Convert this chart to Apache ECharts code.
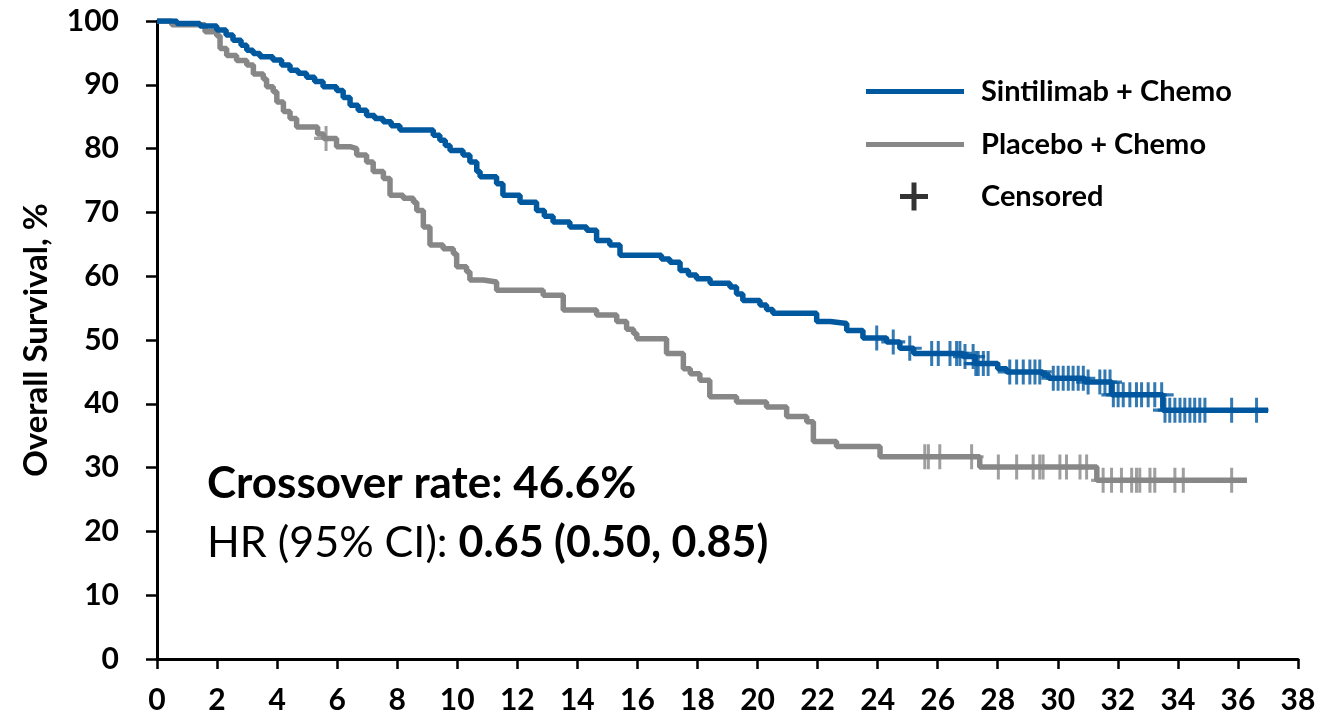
<!DOCTYPE html>
<html>
<head>
<meta charset="utf-8">
<title>Overall Survival</title>
<script src="https://cdn.jsdelivr.net/npm/echarts@6/dist/echarts.min.js"></script>
<style>
  html, body { margin: 0; padding: 0; background: #ffffff; }
  #chart { width: 1338px; height: 721px; }
</style>
</head>
<body>
<div id="chart"></div>
<script>
// Kaplan-Meier step points (months, % surviving) for each arm
const sintiTimes = [0, 0.66, 1.43, 1.99, 2.3, 2.53, 2.8, 2.99, 3.2, 3.43, 3.86, 4.15, 4.43, 4.7, 4.98, 5.25, 5.53, 5.98, 6.2, 6.43, 6.7, 6.98, 7.25, 7.53, 7.8, 8.09, 9.2, 9.42, 9.6, 9.76, 10.19, 10.42, 10.65, 10.76, 11.31, 11.52, 12.09, 12.64, 12.9, 13.19, 13.75, 14.31, 14.64, 15.08, 15.42, 16.8, 17.08, 17.42, 17.7, 17.97, 18.42, 19.08, 19.3, 19.51, 20.08, 20.3, 20.51, 21.97, 22.42, 22.97, 23.51, 24.3, 24.74, 25.2, 26.85, 27.25, 28.0, 28.3, 29.5, 29.7, 30.9, 31.8, 33.5, 37.0];
const sintiSurv  = [100, 99.6, 99.2, 98.6, 97.8, 97.0, 96.2, 95.4, 94.9, 94.4, 93.9, 93.1, 92.3, 91.8, 91.2, 90.5, 89.7, 89.1, 88.0, 86.8, 86.0, 85.2, 84.7, 84.2, 83.6, 82.9, 82.1, 81.3, 80.5, 79.7, 79.0, 77.9, 76.4, 75.6, 74.5, 72.7, 71.6, 70.3, 69.4, 68.5, 67.7, 67.2, 65.6, 64.9, 63.3, 62.7, 62.2, 60.9, 60.2, 59.6, 58.9, 58.3, 57.2, 56.2, 55.5, 54.8, 54.2, 52.9, 52.6, 51.5, 50.3, 49.7, 48.7, 47.9, 47.4, 46.3, 45.5, 45.0, 44.5, 44.0, 43.4, 41.4, 39.0, 39.0];
const sintiCensored = [23.97, 24.52, 25.07, 25.80, 26.02, 26.41, 26.63, 26.74, 26.91, 27.18, 27.27, 27.35, 27.52, 27.68, 28.40, 28.63, 28.85, 29.07, 29.24, 29.40, 29.85, 30.01, 30.18, 30.35, 30.51, 30.68, 30.85, 31.01, 31.40, 31.57, 31.74, 31.85, 32.01, 32.18, 32.40, 32.62, 32.79, 33.01, 33.23, 33.46, 33.57, 33.73, 33.90, 34.07, 34.23, 34.40, 34.56, 34.73, 34.90, 35.79, 36.62];

const placeboTimes = [0, 0.49, 1.6, 1.99, 2.1, 2.32, 2.65, 2.99, 3.21, 3.54, 3.65, 3.87, 3.99, 4.21, 4.43, 4.65, 5.35, 5.55, 5.98, 6.43, 6.65, 6.98, 7.2, 7.54, 7.76, 8.2, 8.54, 8.65, 8.87, 9.09, 9.53, 9.87, 9.98, 10.31, 10.42, 10.87, 11.31, 12.86, 13.53, 14.64, 15.31, 15.64, 15.87, 15.98, 16.97, 17.53, 17.76, 18.08, 18.41, 19.3, 20.3, 20.97, 21.64, 21.86, 22.63, 24.08, 27.4, 31.3, 36.3];
const placeboSurv  = [100, 99.4, 98.3, 97.7, 95.7, 94.6, 93.8, 93.1, 91.7, 90.9, 89.7, 88.9, 87.3, 85.8, 84.7, 83.4, 82.3, 81.6, 80.3, 80.0, 79.0, 77.9, 76.4, 75.3, 72.7, 72.2, 71.6, 70.3, 67.7, 64.9, 64.3, 63.5, 61.5, 60.7, 59.4, 59.1, 57.8, 57.0, 54.7, 53.9, 52.9, 51.7, 51.0, 50.2, 47.9, 45.5, 44.7, 43.7, 41.1, 40.3, 39.5, 38.0, 37.2, 34.1, 33.3, 31.7, 30.1, 28.0, 28.0];
const placeboCensored = [5.63, 25.57, 25.69, 26.07, 27.13, 28.02, 28.63, 29.18, 29.40, 29.51, 30.07, 30.29, 30.74, 30.96, 31.51, 31.79, 32.12, 32.46, 32.62, 32.73, 33.07, 33.23, 33.90, 34.18, 35.79];

const xTicks = { min: 0, max: 38, interval: 2 };
const yTicks = { min: 0, max: 100, interval: 10 };

const BLUE = '#00589f';
const GREY = '#878787';
const FONT = 'Lato, "Noto Sans", sans-serif';

function pairs(ts, vs) { return ts.map((t, i) => [t, vs[i]]); }
function survivalAt(ts, vs, t) {
  let v = vs[0];
  for (let i = 0; i < ts.length; i++) { if (ts[i] <= t) v = vs[i]; else break; }
  return v;
}
function censorPoints(cs, ts, vs) { return cs.map(t => [t, survivalAt(ts, vs, t)]); }

// plus-shaped marker for censored observations
const PLUS = 'path://M10.5,0H13.5V10.5H24V13.5H13.5V24H10.5V13.5H0V10.5H10.5Z';
// legend icons: the trailing zero-area segment widens the icon box so the label sits further right
const PLUS_LEGEND = 'path://M11.5,0H16.5V11.5H28V16.5H16.5V28H11.5V16.5H0V11.5H11.5Z M76,0L76,28';
const LINE_LEGEND = 'path://M0,0H98V5H0Z M110,0L110,5';

const chart = echarts.init(document.getElementById('chart'), null, { renderer: 'canvas' });

const legendText = { fontFamily: FONT, fontWeight: 'bold', fontSize: 29, color: '#000' };

chart.setOption({
  backgroundColor: '#ffffff',
  animation: false,
  grid: { left: 157, right: 40, top: 21, bottom: 62, containLabel: false },
  xAxis: {
    type: 'value', min: xTicks.min, max: xTicks.max, interval: xTicks.interval,
    axisLine: { show: true, onZero: false, lineStyle: { color: '#000', width: 3 } },
    axisTick: { show: true, length: 10, lineStyle: { color: '#000', width: 2.5 } },
    axisLabel: { margin: 26, fontFamily: FONT, fontWeight: 'bold', fontSize: 30, color: '#000' },
    splitLine: { show: false }
  },
  yAxis: {
    type: 'value', min: yTicks.min, max: yTicks.max, interval: yTicks.interval,
    name: 'Overall Survival, %', nameLocation: 'middle', nameGap: 104,
    nameTextStyle: { fontFamily: FONT, fontWeight: 'bold', fontSize: 33, color: '#000' },
    axisLine: { show: true, lineStyle: { color: '#000', width: 3 } },
    axisTick: { show: true, length: 11, lineStyle: { color: '#000', width: 2.5 } },
    axisLabel: { margin: 38, fontFamily: FONT, fontWeight: 'bold', fontSize: 30, color: '#000' },
    splitLine: { show: false }
  },
  legend: [
    { data: [{ name: 'Sintilimab + Chemo', icon: LINE_LEGEND }], left: 861, top: 72, itemWidth: 110, itemHeight: 5,
      itemStyle: { borderWidth: 0 }, textStyle: legendText, selectedMode: false },
    { data: [{ name: 'Placebo + Chemo', icon: LINE_LEGEND }], left: 861, top: 125, itemWidth: 110, itemHeight: 5,
      itemStyle: { borderWidth: 0 }, textStyle: legendText, selectedMode: false },
    { data: [{ name: 'Censored', icon: PLUS_LEGEND }], left: 895, top: 177, itemWidth: 76, itemHeight: 28,
      itemStyle: { borderWidth: 0 }, textStyle: legendText, selectedMode: false }
  ],
  graphic: [
    { type: 'text', left: 207, top: 462,
      style: { text: '{b|Crossover rate: 46.6%}', rich: { b: { fontFamily: FONT, fontWeight: 'bold', fontSize: 44, fill: '#000' } } } },
    { type: 'text', left: 207, top: 522,
      style: { text: '{n|HR (95% CI): }{b|0.65 (0.50, 0.85)}',
        rich: { n: { fontFamily: FONT, fontSize: 43, fill: '#000' },
                b: { fontFamily: FONT, fontWeight: 'bold', fontSize: 43, fill: '#000' } } } }
  ],
  series: [
    { name: 'Placebo + Chemo', type: 'line', step: 'end', showSymbol: false, symbol: 'none',
      color: GREY, lineStyle: { color: GREY, width: 5.5 }, data: pairs(placeboTimes, placeboSurv), z: 2 },
    { name: 'Sintilimab + Chemo', type: 'line', step: 'end', showSymbol: false, symbol: 'none',
      color: BLUE, lineStyle: { color: BLUE, width: 5.5 }, data: pairs(sintiTimes, sintiSurv), z: 3 },
    { name: 'placebo-censored', type: 'scatter', symbol: PLUS, symbolSize: [24, 25],
      itemStyle: { color: GREY }, data: censorPoints(placeboCensored, placeboTimes, placeboSurv), z: 4 },
    { name: 'sinti-censored', type: 'scatter', symbol: PLUS, symbolSize: [24, 25],
      itemStyle: { color: BLUE }, data: censorPoints(sintiCensored, sintiTimes, sintiSurv), z: 5 },
    { name: 'Censored', type: 'scatter', color: '#000', itemStyle: { color: '#000' }, data: [] }
  ]
});
</script>
</body>
</html>
